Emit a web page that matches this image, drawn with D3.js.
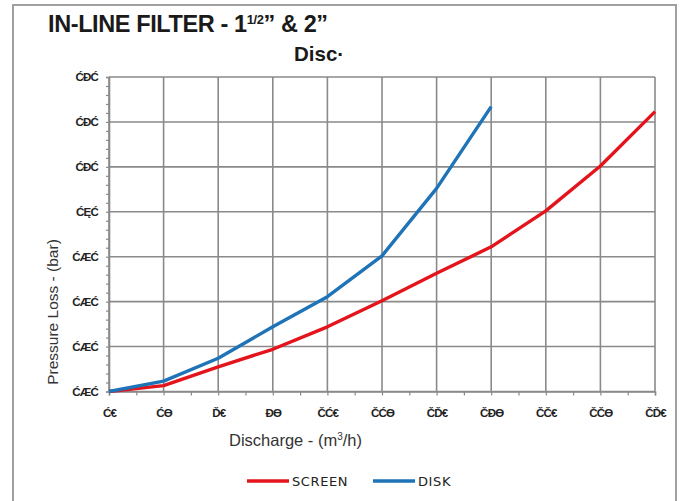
<!DOCTYPE html>
<html>
<head>
<meta charset="utf-8">
<script src="https://cdn.jsdelivr.net/npm/d3@7"></script>
<style>
  body { margin: 0; background: #fff; }
  svg { display: block; font-family: 'Liberation Sans', Arial, sans-serif; }
</style>
</head>
<body>
<div id="chart"></div>
<script>
// tick labels as printed in the source (font mapping is broken there)
const xTickLabels = ['Ć€', 'ĆƟ', 'Ď€', 'ĐƟ', 'ČĆ€', 'ČĆƟ', 'ČĎ€', 'ČĐƟ', 'ČČ€', 'ČČƟ', 'ČĎ€']
const yTickLabels = ['ĆÆĆ', 'ĆÆĆ', 'ĆÆĆ', 'ĆÆĆ', 'ĆĘĆ', 'ĆĐĆ', 'ĆĐĆ', 'ĆĐĆ']

// values in grid units (0..7), one per x tick
const screenValues = [0, 0.13, 0.55, 0.94, 1.44, 2.02, 2.63, 3.22, 4.02, 5.02, 6.23]
const diskValues = [0, 0.23, 0.74, 1.44, 2.11, 3.02, 4.52, 6.34]

const seriesNames = ['SCREEN', 'DISK']
const seriesColors = ['#e3141c', '#1f73b7']

const width = 683
const height = 501
const margin = { top: 77, right: 28, bottom: 110, left: 109 }

const svg = d3.select('#chart')
  .append('svg')
  .attr('width', width)
  .attr('height', height)

// outer frame
svg.append('path')
  .attr('d', `M13,${height} V5 H676 V${height}`)
  .attr('fill', 'none')
  .attr('stroke', '#a0a0a0')
  .attr('stroke-width', 2)

const x = d3.scaleLinear()
  .domain([0, xTickLabels.length - 1])
  .range([margin.left, width - margin.right])

const y = d3.scaleLinear()
  .domain([0, yTickLabels.length - 1])
  .range([height - margin.bottom + 0.5, margin.top])

const gridColor = '#8a8a8a'

// grid
svg.append('g')
  .selectAll('line')
  .data(d3.range(yTickLabels.length))
  .enter()
  .append('line')
  .attr('x1', x(0))
  .attr('x2', x(xTickLabels.length - 1))
  .attr('y1', d => y(d))
  .attr('y2', d => y(d))
  .attr('stroke', gridColor)
  .attr('stroke-width', 1.6)

svg.append('g')
  .selectAll('line')
  .data(d3.range(xTickLabels.length))
  .enter()
  .append('line')
  .attr('x1', d => x(d))
  .attr('x2', d => x(d))
  .attr('y1', y(0))
  .attr('y2', y(yTickLabels.length - 1))
  .attr('stroke', gridColor)
  .attr('stroke-width', 1.6)

// y axis with minor ticks
const yAxis = d3.axisLeft(y)
  .tickValues(d3.range(0, yTickLabels.length - 1 + 0.001, 0.2))
  .tickSize(3)
  .tickFormat('')

svg.append('g')
  .attr('transform', `translate(${x(0)},0)`)
  .call(yAxis)
  .call(g => g.select('.domain').attr('stroke', gridColor).attr('stroke-width', 1.6))
  .call(g => g.selectAll('.tick line').attr('stroke', gridColor).attr('stroke-width', 1.2))

const yLabels = d3.axisLeft(y)
  .tickValues(d3.range(yTickLabels.length))
  .tickSize(0)
  .tickPadding(11)
  .tickFormat((d, i) => yTickLabels[i])

svg.append('g')
  .attr('transform', `translate(${x(0)},0)`)
  .call(yLabels)
  .call(g => g.select('.domain').remove())
  .call(g => g.selectAll('text')
    .attr('font-size', 11.5).attr('font-weight', 'bold').attr('fill', '#222')
    .attr('letter-spacing', -0.8))

// x axis with minor ticks
const xAxis = d3.axisBottom(x)
  .tickValues(d3.range(0, xTickLabels.length - 1 + 0.001, 0.5))
  .tickSize(4)
  .tickFormat('')

svg.append('g')
  .attr('transform', `translate(0,${y(0)})`)
  .call(xAxis)
  .call(g => g.select('.domain').attr('stroke', gridColor).attr('stroke-width', 1.6))
  .call(g => g.selectAll('.tick line').attr('stroke', gridColor).attr('stroke-width', 1.2))

const xLabels = d3.axisBottom(x)
  .tickValues(d3.range(xTickLabels.length))
  .tickSize(0)
  .tickPadding(17)
  .tickFormat((d, i) => xTickLabels[i])

svg.append('g')
  .attr('transform', `translate(0,${y(0)})`)
  .call(xLabels)
  .call(g => g.select('.domain').remove())
  .call(g => g.selectAll('text')
    .attr('font-size', 11.5).attr('font-weight', 'bold').attr('fill', '#222')
    .attr('letter-spacing', -0.8))

// lines
const line = d3.line()
  .x((d, i) => x(i))
  .y(d => y(d))

const seriesData = [screenValues, diskValues]

svg.append('g')
  .selectAll('path')
  .data(seriesData)
  .enter()
  .append('path')
  .attr('d', line)
  .attr('fill', 'none')
  .attr('stroke', (d, i) => seriesColors[i])
  .attr('stroke-width', 3.4)
  .attr('stroke-linejoin', 'round')

// titles
const title = svg.append('text')
  .attr('x', 48)
  .attr('y', 32)
  .attr('font-size', 23.5)
  .attr('font-weight', 'bold')
  .attr('fill', '#1a1a1a')
  .attr('letter-spacing', -0.4)
title.append('tspan').text('IN-LINE FILTER - 1')
title.append('tspan').attr('font-size', 13).attr('dy', -8).text('1/2')
title.append('tspan').attr('dy', 8).text('” & 2”')

svg.append('text')
  .attr('x', 294)
  .attr('y', 61)
  .attr('font-size', 20.5)
  .attr('font-weight', 'bold')
  .attr('fill', '#1a1a1a')
  .text('Disc·')

// axis titles
svg.append('text')
  .attr('transform', 'translate(58,312) rotate(-90)')
  .attr('text-anchor', 'middle')
  .attr('font-size', 15.5)
  .attr('fill', '#333')
  .text('Pressure Loss - (bar)')

const xTitle = svg.append('text')
  .attr('x', 229)
  .attr('y', 446)
  .attr('font-size', 16.5)
  .attr('fill', '#333')
xTitle.append('tspan').text('Discharge - (m')
xTitle.append('tspan').attr('font-size', 10).attr('dy', -6).text('3')
xTitle.append('tspan').attr('dy', 6).text('/h)')

// legend
const legendX = [247, 373]
const legend = svg.append('g')
  .selectAll('g')
  .data(seriesNames)
  .enter()
  .append('g')
  .attr('transform', (d, i) => `translate(${legendX[i]},481)`)

legend.append('line')
  .attr('x1', 0)
  .attr('x2', 42)
  .attr('stroke', (d, i) => seriesColors[i])
  .attr('stroke-width', 3.4)

legend.append('text')
  .attr('x', 45)
  .attr('y', 4.5)
  .attr('font-size', 13)
  .attr('font-family', "'DejaVu Sans', sans-serif")
  .attr('letter-spacing', 0.6)
  .attr('fill', '#222')
  .text(d => d)
</script>
</body>
</html>
